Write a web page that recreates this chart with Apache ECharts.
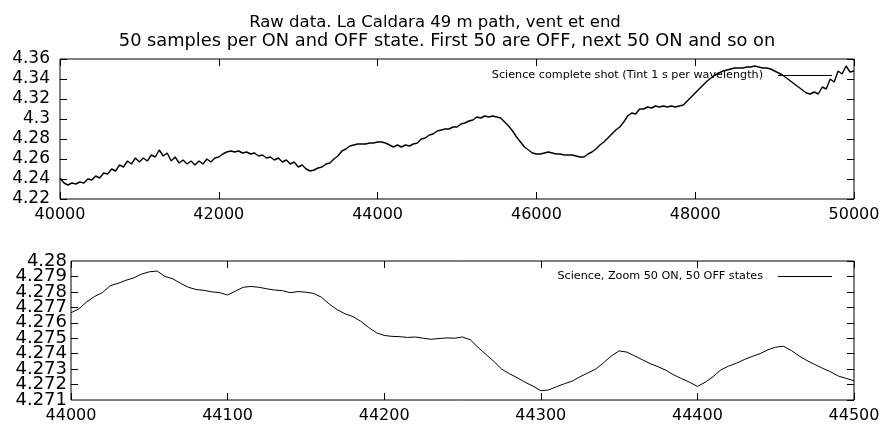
<!DOCTYPE html>
<html>
<head>
<meta charset="utf-8">
<script src="https://cdn.jsdelivr.net/npm/echarts@6/dist/echarts.min.js"></script>
<style>html,body{margin:0;padding:0;background:#fff}#c{width:885px;height:430px}</style>
</head>
<body>
<div id="c"></div>
<script>
const titleLines = ['Raw data. La Caldara 49 m path, vent et end',
  '50 samples per ON and OFF state. First 50 are OFF, next 50 ON and so on'];
const topName = 'Science complete shot (Tint 1 s per wavelength)';
const bottomName = 'Science, Zoom 50 ON, 50 OFF states';

// top panel: sample index grid start/step
const topStart = 40000, topStep = 50;
const topValues = [
4.241,4.236,4.234,4.236,4.235,4.237,4.236,4.240,4.239,4.243,
4.241,4.246,4.245,4.250,4.248,4.254,4.252,4.258,4.255,4.261,
4.257,4.261,4.258,4.264,4.262,4.269,4.263,4.266,4.258,4.262,
4.256,4.259,4.255,4.258,4.254,4.258,4.255,4.260,4.257,4.261,
4.262,4.265,4.267,4.268,4.267,4.268,4.266,4.267,4.265,4.266,
4.263,4.264,4.261,4.262,4.259,4.261,4.257,4.259,4.255,4.257,
4.252,4.254,4.250,4.248,4.249,4.251,4.252,4.255,4.256,4.260,
4.263,4.268,4.270,4.273,4.274,4.275,4.275,4.275,4.276,4.276,
4.277,4.277,4.276,4.274,4.272,4.274,4.272,4.274,4.273,4.275,
4.276,4.280,4.281,4.284,4.285,4.288,4.289,4.290,4.290,4.292,
4.292,4.295,4.296,4.298,4.299,4.302,4.301,4.303,4.302,4.303,
4.302,4.301,4.297,4.293,4.288,4.282,4.277,4.272,4.269,4.266,
4.265,4.265,4.266,4.267,4.266,4.265,4.265,4.264,4.264,4.264,
4.263,4.262,4.262,4.265,4.267,4.270,4.274,4.277,4.281,4.285,
4.289,4.292,4.297,4.303,4.306,4.305,4.310,4.310,4.312,4.311,
4.313,4.312,4.313,4.312,4.313,4.312,4.313,4.314,4.318,4.322,
4.326,4.330,4.334,4.338,4.341,4.344,4.346,4.348,4.349,4.350,
4.351,4.351,4.351,4.352,4.352,4.353,4.352,4.351,4.351,4.350,
4.348,4.346,4.344,4.341,4.338,4.335,4.332,4.329,4.326,4.325,
4.327,4.325,4.332,4.330,4.340,4.337,4.348,4.345,4.353,4.347,
4.348];

const bottomStart = 44000, bottomStep = 5;
const bottomValues = [
4.27665,4.27690,4.27735,4.27770,4.27795,4.27840,4.27855,4.27875,4.27890,4.27915,
4.27930,4.27935,4.27900,4.27885,4.27855,4.27830,4.27815,4.27810,4.27800,4.27795,
4.27780,4.27805,4.27830,4.27835,4.27830,4.27820,4.27812,4.27808,4.27795,4.27802,
4.27798,4.27790,4.27765,4.27720,4.27685,4.27658,4.27640,4.27610,4.27570,4.27536,
4.27518,4.27512,4.27510,4.27505,4.27508,4.27500,4.27493,4.27498,4.27502,4.27500,
4.27508,4.27490,4.27440,4.27395,4.27350,4.27300,4.27270,4.27244,4.27215,4.27190,
4.27160,4.27165,4.27186,4.27205,4.27222,4.27250,4.27275,4.27300,4.27340,4.27385,
4.27418,4.27410,4.27385,4.27360,4.27335,4.27315,4.27292,4.27262,4.27238,4.27215,
4.27188,4.27215,4.27251,4.27295,4.27320,4.27338,4.27362,4.27382,4.27400,4.27425,
4.27442,4.27448,4.27420,4.27385,4.27355,4.27330,4.27305,4.27283,4.27255,4.27240,
4.27225];

const topXTicks = ['40000','42000','44000','46000','48000','50000'];
const topYTicks = ['4.22','4.24','4.26','4.28','4.3','4.32','4.34','4.36'];
const bottomXTicks = ['44000','44100','44200','44300','44400','44500'];
const bottomYTicks = ['4.271','4.272','4.273','4.274','4.275','4.276','4.277','4.278','4.279','4.28'];

const topData = topValues.map((v, i) => [topStart + i * topStep, v]);
const bottomData = bottomValues.map((v, i) => [bottomStart + i * bottomStep, v]);

const FONT = 'DejaVu Sans';
function mkX(grid, ticks, pos, showLabel) {
  const min = +ticks[0], max = +ticks[ticks.length - 1];
  return {
    type: 'value', gridIndex: grid, position: pos, min: min, max: max,
    interval: (+ticks[1]) - min,
    axisLine: {show: false},
    axisTick: {show: true, inside: true, length: 7, lineStyle: {color: '#000', width: 1}},
    axisLabel: {show: showLabel, color: '#000', fontFamily: FONT, fontSize: 16, margin: 8,
      showMinLabel: true, showMaxLabel: true, hideOverlap: false,
      formatter: v => String(Math.round(v))},
    splitLine: {show: false}
  };
}
function mkY(grid, ticks, pos, showLabel, dec, fs, margin, showEnds, interval, showTick) {
  const min = +ticks[0], max = +ticks[ticks.length - 1];
  return {
    type: 'value', gridIndex: grid, position: pos, min: min, max: max,
    interval: interval || +((+ticks[1]) - min).toFixed(6),
    axisLine: {show: false},
    axisTick: {show: showTick !== false, inside: true, length: 7, lineStyle: {color: '#000', width: 1}},
    axisLabel: {show: showLabel, color: '#000', fontFamily: FONT, fontSize: fs, margin: margin,
      showMinLabel: showEnds, showMaxLabel: showEnds, hideOverlap: false,
      formatter: v => String(+(+v).toFixed(dec))},
    splitLine: {show: false}
  };
}
const bottomSpan = +(+bottomYTicks[bottomYTicks.length - 1] - +bottomYTicks[0]).toFixed(6);

const chart = echarts.init(document.getElementById('c'), null, {renderer: 'canvas'});
chart.setOption({
  animation: false,
  backgroundColor: '#fff',
  title: [
    {text: titleLines[0], left: 430, top: 9, textAlign: 'center',
     textStyle: {fontFamily: FONT, fontSize: 16.5, fontWeight: 'normal', color: '#000'}},
    {text: titleLines[1], left: 442, top: 27, textAlign: 'center',
     textStyle: {fontFamily: FONT, fontSize: 17.8, fontWeight: 'normal', color: '#000'}}
  ],
  grid: [
    {left: 60, right: 31, top: 59, height: 140, show: true, borderColor: '#000', borderWidth: 1, backgroundColor: 'transparent'},
    {left: 71, right: 31, top: 261, height: 139, show: true, borderColor: '#000', borderWidth: 1, backgroundColor: 'transparent'}
  ],
  xAxis: [mkX(0, topXTicks, 'bottom', true), mkX(0, topXTicks, 'top', false),
          mkX(1, bottomXTicks, 'bottom', true), mkX(1, bottomXTicks, 'top', false)],
  yAxis: [mkY(0, topYTicks, 'left', true, 2, 17, 10, true), mkY(0, topYTicks, 'right', false, 2, 17, 10, true),
          mkY(1, bottomYTicks, 'left', true, 3, 18, 4, false), mkY(1, bottomYTicks, 'right', false, 3, 18, 4, false),
          mkY(1, bottomYTicks, 'left', true, 3, 18, 4, true, bottomSpan, false)],
  legend: [
    {data: [topName], right: 53, top: 70, padding: 0, align: 'right', icon: 'rect',
     itemWidth: 54, itemHeight: 1, itemStyle: {color: '#000'},
     textStyle: {fontFamily: FONT, fontSize: 11.2, color: '#000', padding: [0, 10, 0, 0]}},
    {data: [bottomName], right: 53, top: 271, padding: 0, align: 'right', icon: 'rect',
     itemWidth: 54, itemHeight: 1, itemStyle: {color: '#000'},
     textStyle: {fontFamily: FONT, fontSize: 11.2, color: '#000', padding: [0, 10, 0, 0]}}
  ],
  series: [
    {name: topName, type: 'line', xAxisIndex: 0, yAxisIndex: 0, data: topData,
     showSymbol: false, symbol: 'none', color: '#000', lineStyle: {color: '#000', width: 1.4}},
    {name: bottomName, type: 'line', xAxisIndex: 2, yAxisIndex: 2, data: bottomData,
     showSymbol: false, symbol: 'none', color: '#000', lineStyle: {color: '#000', width: 1}}
  ]
});
</script>
</body>
</html>
